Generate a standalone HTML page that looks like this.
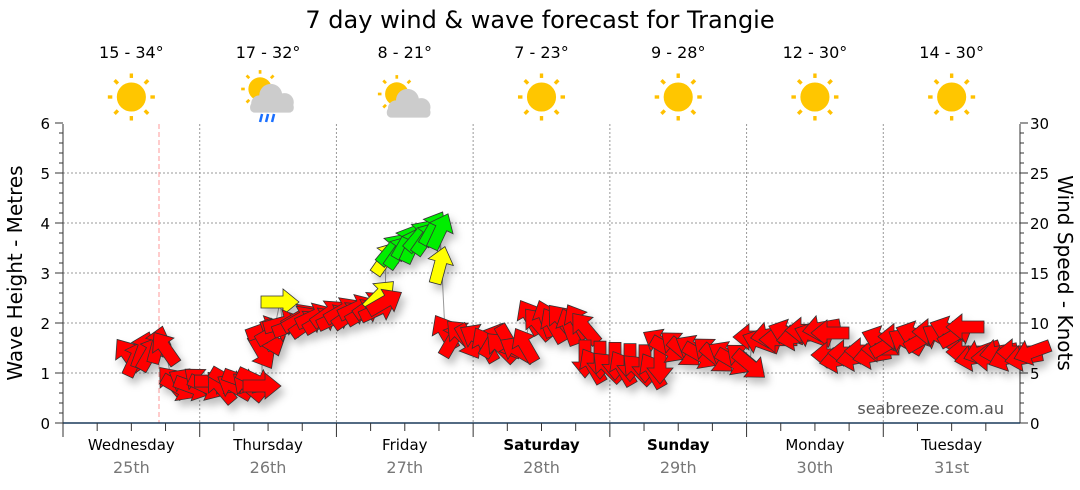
<!DOCTYPE html>
<html><head><meta charset="utf-8"><style>
html,body{margin:0;padding:0;background:#fff;width:1080px;height:490px;overflow:hidden}
svg text{font-family:"DejaVu Sans","Liberation Sans",sans-serif}
</style></head><body>
<svg id="s" width="1080" height="490" viewBox="0 0 1080 490" xmlns="http://www.w3.org/2000/svg">
<defs>
<filter id="sh" x="-50%" y="-50%" width="200%" height="200%"><feDropShadow dx="4" dy="6" stdDeviation="4" flood-color="#000" flood-opacity="0.25"/></filter>
<g id="sun"><g stroke="#ffc000" stroke-width="3">
<line x1="0" y1="-17" x2="0" y2="-21"/><line x1="0" y1="17" x2="0" y2="21"/><line x1="-17" y1="0" x2="-21" y2="0"/><line x1="17" y1="0" x2="21" y2="0"/>
<line x1="12" y1="12" x2="15" y2="15"/><line x1="-12" y1="-12" x2="-15" y2="-15"/><line x1="12" y1="-12" x2="15" y2="-15"/><line x1="-12" y1="12" x2="-15" y2="15"/></g>
<circle r="13" fill="#ffc600"/></g>
<g id="cloud" fill="#cccccc"><circle cx="-2" cy="-4" r="10"/><circle cx="-12" cy="3" r="7"/><circle cx="10" cy="2" r="8"/><rect x="-20" y="2" width="38" height="9" rx="4"/></g>
</defs>
<text x="540" y="28" font-size="24" text-anchor="middle" fill="#000">7 day wind &amp; wave forecast for Trangie</text>
<g id="grid"></g>
<g id="icons"></g>
<text transform="translate(22,273) rotate(-90)" font-size="20" text-anchor="middle">Wave Height - Metres</text>
<text transform="translate(1058,273) rotate(90)" font-size="20" text-anchor="middle">Wind Speed - Knots</text>
<text x="1004" y="414" font-size="16" text-anchor="end" fill="#555">seabreeze.com.au</text>
<polyline id="ln" fill="none" stroke="#999" stroke-width="1"/>
<g id="arr" filter="url(#sh)"></g>
</svg>
<script>
const NS="http://www.w3.org/2000/svg";
function el(p,t,a,txt){const e=document.createElementNS(NS,t);for(const k in a)e.setAttribute(k,a[k]);if(txt!=null)e.textContent=txt;p.appendChild(e);return e;}
const g=document.getElementById('grid'),L=63,R=1020,T=124,B=423,DW=(R-L)/7;
for(let v=1;v<6;v++)el(g,'line',{x1:L,x2:R,y1:B-50*v,y2:B-50*v,stroke:'#999','stroke-dasharray':'2,2'});
for(let i=1;i<7;i++)el(g,'line',{x1:L+DW*i,x2:L+DW*i,y1:T,y2:B,stroke:'#999','stroke-dasharray':'2,2'});
el(g,'line',{x1:159,x2:159,y1:T,y2:B,stroke:'#f99','stroke-dasharray':'5,3'});
el(g,'line',{x1:L,x2:L,y1:T,y2:B,stroke:'#333'});
el(g,'line',{x1:R,x2:R,y1:T,y2:B,stroke:'#333'});
el(g,'line',{x1:L,x2:R,y1:B,y2:B,stroke:'#1a3a5a','stroke-width':1.5});
for(let v=0;v<=6;v++){el(g,'text',{x:50,y:B-50*v+6,'font-size':15,'text-anchor':'end'},v);el(g,'line',{x1:L-8,x2:L,y1:B-50*v,y2:B-50*v,stroke:'#333'});}
for(let v=0;v<=30;v++){const y=B-10*v;el(g,'line',{x1:R,x2:R+(v%5?4:8),y1:y,y2:y,stroke:'#333'});if(v%5==0)el(g,'text',{x:1030,y:y+6,'font-size':15},v);}
for(let v=0;v<30;v++){el(g,'line',{x1:L-4,x2:L,y1:B-10*v,y2:B-10*v,stroke:'#333'});}
const days=[["Wednesday","25th"],["Thursday","26th"],["Friday","27th"],["Saturday","28th"],["Sunday","29th"],["Monday","30th"],["Tuesday","31st"]];
const temps=["15 - 34°","17 - 32°","8 - 21°","7 - 23°","9 - 28°","12 - 30°","14 - 30°"];
const ic=document.getElementById('icons');
for(let i=0;i<7;i++){const cx=L+DW*(i+0.5);
 for(let k=0;k<4;k++){const x=L+DW*i+DW*k/4;el(g,'line',{x1:x,x2:x,y1:B,y2:B+(k==0?14:8),stroke:'#333'});}
 el(g,'text',{x:cx,y:450,'font-size':15,'text-anchor':'middle','font-weight':(i==3||i==4)?'bold':'normal'},days[i][0]);
 el(g,'text',{x:cx,y:473,'font-size':16,'text-anchor':'middle',fill:'#777'},days[i][1]);
 el(ic,'text',{x:cx,y:58,'font-size':16,'text-anchor':'middle'},temps[i]);
 if(i==1){el(ic,'use',{href:'#sun',transform:`translate(${cx-8},89) scale(0.9)`});el(ic,'use',{href:'#cloud',transform:`translate(${cx+5},100) scale(1.15)`});
  for(let r=0;r<3;r++)el(ic,'line',{x1:cx-6+r*6,y1:114,x2:cx-8+r*6,y2:122,stroke:'#1a6fff','stroke-width':2.5});}
 else if(i==2){el(ic,'use',{href:'#sun',transform:`translate(${cx-8},94) scale(0.9)`});el(ic,'use',{href:'#cloud',transform:`translate(${cx+5},105) scale(1.15)`});}
 else el(ic,'use',{href:'#sun',transform:`translate(${cx},97) scale(1.12)`});
}
const A=[];
function seg(x0,x1,y0,y1,angs,n,c){for(let i=0;i<n;i++){const t=n>1?i/(n-1):0;A.push([x0+(x1-x0)*t,y0+(y1-y0)*t+(i%2?3:-3),angs[i%angs.length],c||'r']);}}
seg(128,165,358,345,[-125,-65,-70,-60,-75],6);
seg(172,262,385,383,[-130,30,-150,20,-140,25,0],14);
seg(262,272,355,335,[60,70],2);
seg(265,300,332,320,[-20,-30,-15],5);
seg(300,385,322,305,[-30,-35,-25],13);
seg(445,525,335,348,[-120,-60,-135,60,-150],11);
seg(530,585,320,325,[-120,-130,-110],8);
seg(585,660,362,368,[90,-120,90,-135],11);
seg(660,750,345,362,[-150,30,-140,40],12);
seg(752,830,340,330,[180,-160,170],10);
seg(830,880,358,352,[180,170],7);
seg(880,965,342,330,[-160,-30,180,-150],11);
seg(965,1032,355,355,[180,170,160],9);
A.push([280,302,0,'y'],[380,295,-45,'y'],[386,258,-55,'y'],[440,265,-75,'y']);
seg(392,440,252,228,[-50,-55,-60,-65],8,'g');
A.sort((a,b)=>a[0]-b[0]);
document.getElementById('ln').setAttribute('points',A.map(a=>a[0].toFixed(1)+','+a[1].toFixed(1)).join(' '));
const ag=document.getElementById('arr'),col={r:'#ff0000',y:'#ffff00',g:'#00ee00'};
for(const a of A)el(ag,'polygon',{points:'-19,-6 3,-6 3,-13 19,0 3,13 3,6 -19,6',fill:col[a[3]],stroke:'#333','stroke-width':0.8,transform:`translate(${a[0]},${a[1]}) rotate(${a[2]})`});
</script>
</body></html>
